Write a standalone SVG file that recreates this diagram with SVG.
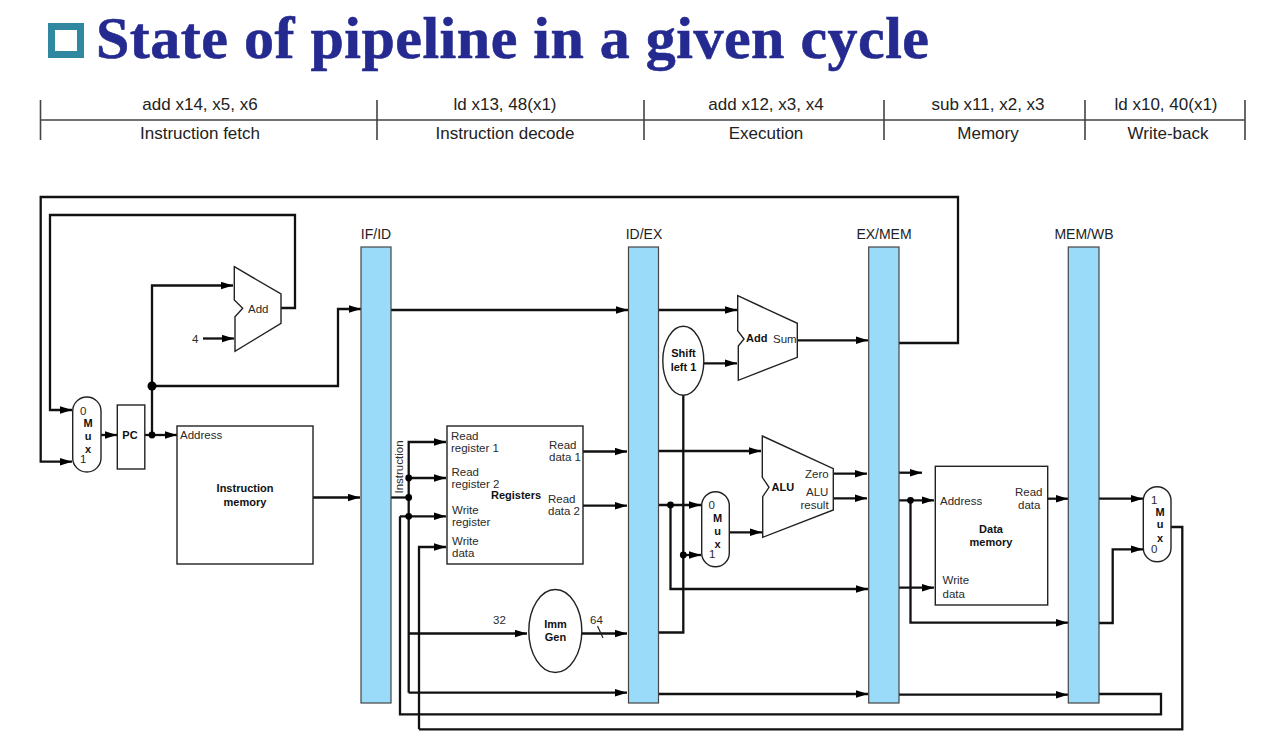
<svg xmlns="http://www.w3.org/2000/svg" width="1270" height="742" viewBox="0 0 1270 742">
  <style>
    text { font-family: "Liberation Sans", Arial, sans-serif; fill: #2a2a2a; }
    .lbl { font-size: 11.5px; }
    .b { font-size: 11px; font-weight: bold; fill: #111; }
    .m { text-anchor: middle; }
    .hdr { font-size: 17px; text-anchor: middle; fill: #222; }
    .reg { font-size: 14px; text-anchor: middle; fill: #222; }
    .bar { fill: #9bdbfa; stroke: #444; stroke-width: 1.2; }
    .box { fill: #fff; stroke: #222; stroke-width: 1.4; }
    .wire { fill: none; stroke: #111; stroke-width: 2.3; }
    .arr { marker-end: url(#head); }
    .dot { fill: #000; stroke: none; }
    .rule { stroke: #444; stroke-width: 1.6; fill: none; }
  </style>
  <defs>
    <marker id="head" markerUnits="userSpaceOnUse" viewBox="0 0 12 8" refX="12" refY="4" markerWidth="12" markerHeight="8" orient="auto">
      <path d="M0 0.3 L12 4 L0 7.7 Z" fill="#000"/>
    </marker>
  </defs>
  <rect width="1270" height="742" fill="#fff"/>

  <g id="title">
    <rect x="51.5" y="26.5" width="29" height="28" fill="#fff" stroke="#2f87a0" stroke-width="7"/>
    <text x="96" y="58" font-size="60" font-weight="bold" textLength="833" lengthAdjust="spacing" style="font-family:'Liberation Serif','Times New Roman',serif;fill:#252a90;stroke:#252a90;stroke-width:0.6">State of pipeline in a given cycle</text>
  </g>

  <g id="stage-header">
    <path class="rule" d="M40.5 120H1245M40.5 100V140M377 100V140M644 100V140M884 100V140M1085 100V140M1245 100V140"/>
    <text class="hdr" x="200" y="110">add x14, x5, x6</text>
    <text class="hdr" x="200" y="139">Instruction fetch</text>
    <text class="hdr" x="505" y="110">ld x13, 48(x1)</text>
    <text class="hdr" x="505" y="139">Instruction decode</text>
    <text class="hdr" x="766" y="110">add x12, x3, x4</text>
    <text class="hdr" x="766" y="139">Execution</text>
    <text class="hdr" x="988" y="110">sub x11, x2, x3</text>
    <text class="hdr" x="988" y="139">Memory</text>
    <text class="hdr" x="1166" y="110">ld x10, 40(x1)</text>
    <text class="hdr" x="1168" y="139">Write-back</text>
  </g>

  <g id="connectors">
    <!-- fetch stage -->
    <path class="wire arr" d="M899 343H958V197H40.7V461.7H72"/>
    <path class="wire arr" d="M281 308H295V215H50V410H72"/>
    <path class="wire arr" d="M101 435H117"/>
    <path class="wire arr" d="M145 435H177"/>
    <path class="wire arr" d="M152 435V285.5H233"/>
    <path class="wire arr" d="M152 386H338V309H361"/>
    <path class="wire arr" d="M203 338.5H234"/>
    <path class="wire arr" d="M313 497.5H360"/>
    <!-- decode stage -->
    <path class="wire arr" d="M391 310H628"/>
    <path class="wire" d="M391 497.5H409"/>
    <path class="wire arr" d="M408.7 692.7V442H446"/>
    <path class="wire arr" d="M408.7 478H446"/>
    <path class="wire arr" d="M400 516.3H446"/>
    <path class="wire arr" d="M419 729.3V547H446"/>
    <path class="wire arr" d="M408.7 633.5H527"/>
    <path class="wire arr" d="M408.7 692.7H627"/>
    <path class="wire arr" d="M583 451.5H627"/>
    <path class="wire arr" d="M583 505.7H627"/>
    <path class="wire arr" d="M581 633.5H627"/>
    <path d="M597.5 626L603 638" stroke="#222" stroke-width="1.2" fill="none"/>
    <!-- execute stage -->
    <path class="wire arr" d="M658 310H737"/>
    <path class="wire arr" d="M704 363.3H737"/>
    <path class="wire arr" d="M797 340.3H868"/>
    <path class="wire" d="M658 632.5H683.3V395"/>
    <path class="wire arr" d="M658 451H761"/>
    <path class="wire arr" d="M658 505H701"/>
    <path class="wire arr" d="M670.5 505V589H868"/>
    <path class="wire arr" d="M683.3 555H701"/>
    <path class="wire arr" d="M729 532.3H762"/>
    <path class="wire arr" d="M833 473.7H867"/>
    <path class="wire arr" d="M833 498.3H867"/>
    <path class="wire arr" d="M658 694H868"/>
    <!-- memory stage -->
    <path class="wire arr" d="M899 472.7H922"/>
    <path class="wire arr" d="M899 500.3H934"/>
    <path class="wire arr" d="M910.5 500.3V622.7H1068"/>
    <path class="wire arr" d="M899 587.7H934"/>
    <path class="wire arr" d="M899 694.7H1068"/>
    <path class="wire arr" d="M1047 498.7H1068"/>
    <!-- write-back stage -->
    <path class="wire arr" d="M1099 498.7H1143"/>
    <path class="wire arr" d="M1099 623H1112.7V549.3H1143"/>
    <path class="wire" d="M1171 527H1182.3V729.3H419"/>
    <path class="wire" d="M1099 694H1161V714.3H400V516.3"/>
    <!-- junctions -->
    <circle class="dot" cx="152" cy="386" r="4.5"/>
    <circle class="dot" cx="152" cy="435" r="3.4"/>
    <circle class="dot" cx="408.7" cy="478" r="3.4"/>
    <circle class="dot" cx="408.7" cy="497.5" r="3.4"/>
    <circle class="dot" cx="408.7" cy="516.3" r="3.4"/>
    <circle class="dot" cx="670.5" cy="505" r="3.4"/>
    <circle class="dot" cx="683.3" cy="555" r="3.4"/>
    <circle class="dot" cx="910.5" cy="500.3" r="3.4"/>
  </g>

  <g id="pc-mux">
    <rect class="box" x="72.7" y="397" width="28.3" height="75" rx="14.1"/>
    <text class="lbl" x="80" y="415">0</text>
    <text class="b m" x="88" y="427">M</text>
    <text class="b m" x="88" y="440">u</text>
    <text class="b m" x="88" y="453">x</text>
    <text class="lbl" x="80" y="463">1</text>
  </g>
  <g id="pc">
    <rect class="box" x="117.3" y="405" width="27.5" height="64"/>
    <text class="b m" x="130" y="439">PC</text>
  </g>
  <g id="pc-adder">
    <path class="box" d="M234.3 266.7L281 294V323.3L235 351.3V316.7L242.7 308.3L234.3 300Z"/>
    <text class="lbl" x="248" y="313">Add</text>
    <text class="lbl" x="192" y="343">4</text>
  </g>
  <g id="instruction-memory">
    <rect class="box" x="177" y="426" width="136" height="138"/>
    <text class="lbl" x="180" y="439">Address</text>
    <text class="b m" x="245" y="492">Instruction</text>
    <text class="b m" x="245" y="506">memory</text>
  </g>

  <g id="if-id">
    <rect class="bar" x="361" y="247" width="30" height="456"/>
    <text class="reg" x="376" y="239">IF/ID</text>
  </g>
  <text class="lbl" transform="translate(403 493.5) rotate(-90)">Instruction</text>

  <g id="registers">
    <rect class="box" x="447" y="426" width="136" height="138"/>
    <text class="lbl" x="451" y="440">Read</text>
    <text class="lbl" x="451" y="452">register 1</text>
    <text class="lbl" x="451.5" y="476">Read</text>
    <text class="lbl" x="451.5" y="488">register 2</text>
    <text class="lbl" x="452" y="514">Write</text>
    <text class="lbl" x="452" y="526">register</text>
    <text class="lbl" x="452" y="545">Write</text>
    <text class="lbl" x="452" y="557">data</text>
    <text class="lbl" x="549" y="449">Read</text>
    <text class="lbl" x="549" y="461">data 1</text>
    <text class="lbl" x="548" y="503">Read</text>
    <text class="lbl" x="548" y="515">data 2</text>
    <text class="b" x="491" y="499">Registers</text>
  </g>
  <g id="imm-gen">
    <ellipse class="box" cx="555.3" cy="631" rx="26.5" ry="41.5"/>
    <text class="b m" x="555.5" y="628">Imm</text>
    <text class="b m" x="555.5" y="641">Gen</text>
    <text class="lbl" x="493" y="624">32</text>
    <text class="lbl" x="590" y="624">64</text>
  </g>

  <g id="id-ex">
    <rect class="bar" x="628.5" y="247" width="30" height="456"/>
    <text class="reg" x="644" y="239">ID/EX</text>
  </g>
  <g id="branch-adder">
    <path class="box" d="M737.7 295.7L797.3 323.3V357.3L738.3 380.3V346L744 339L737.7 330.7Z"/>
    <text class="b" x="746" y="342">Add</text>
    <text class="lbl" x="773" y="343">Sum</text>
  </g>
  <g id="shift-left">
    <ellipse class="box" cx="683.3" cy="360.7" rx="20.5" ry="34.5"/>
    <text class="b m" x="683.5" y="357">Shift</text>
    <text class="b m" x="683.5" y="371">left 1</text>
  </g>
  <g id="alu-mux">
    <rect class="box" x="701.7" y="491.7" width="27.6" height="75" rx="13.8"/>
    <text class="lbl" x="708.5" y="509">0</text>
    <text class="b m" x="717.5" y="522">M</text>
    <text class="b m" x="717.5" y="535">u</text>
    <text class="b m" x="717.5" y="548">x</text>
    <text class="lbl" x="709" y="558">1</text>
  </g>
  <g id="alu">
    <path class="box" d="M762.3 436L833.3 468.7V510L762.7 537.3V496.7L769 487.3L762.3 477.3Z"/>
    <text class="b" x="771.5" y="491">ALU</text>
    <text class="lbl" x="805" y="478">Zero</text>
    <text class="lbl" x="806" y="496">ALU</text>
    <text class="lbl" x="800.5" y="509">result</text>
  </g>

  <g id="ex-mem">
    <rect class="bar" x="868.7" y="247" width="30.3" height="456"/>
    <text class="reg" x="884" y="239">EX/MEM</text>
  </g>
  <g id="data-memory">
    <rect class="box" x="935.3" y="466.3" width="112.4" height="138.7"/>
    <text class="lbl" x="940" y="505">Address</text>
    <text class="lbl" x="1015" y="496">Read</text>
    <text class="lbl" x="1018" y="509">data</text>
    <text class="b m" x="991" y="533">Data</text>
    <text class="b m" x="991" y="546">memory</text>
    <text class="lbl" x="942.5" y="584">Write</text>
    <text class="lbl" x="942.5" y="598">data</text>
  </g>
  <g id="mem-wb">
    <rect class="bar" x="1068.3" y="247" width="30.7" height="456"/>
    <text class="reg" x="1084" y="239">MEM/WB</text>
  </g>
  <g id="wb-mux">
    <rect class="box" x="1143.3" y="486.7" width="27.7" height="75" rx="13.8"/>
    <text class="lbl" x="1151" y="504">1</text>
    <text class="b m" x="1160" y="516">M</text>
    <text class="b m" x="1160" y="528">u</text>
    <text class="b m" x="1160" y="542">x</text>
    <text class="lbl" x="1151" y="553">0</text>
  </g>
</svg>
